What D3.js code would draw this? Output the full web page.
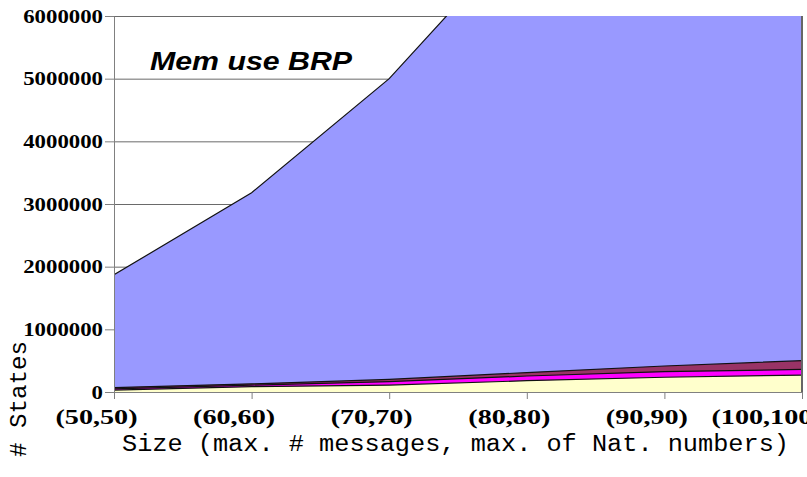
<!DOCTYPE html>
<html>
<head>
<meta charset="utf-8">
<script src="https://cdn.jsdelivr.net/npm/d3@7"></script>
<style>
html,body{margin:0;padding:0;background:#fff;}
svg{display:block;}
</style>
</head>
<body>
<svg id="chart" width="807" height="477"></svg>
<script>
// ---- data ----
const categories = ["(50,50)", "(60,60)", "(70,70)", "(80,80)", "(90,90)", "(100,100)"];
const memBlue    = [1870000, 3180000, 5000000, 7400000, 10300000, 13500000];
const memMaroon  = [70000, 130000, 200000, 310000, 415000, 500000];
const memMagenta = [50000, 110000, 165000, 255000, 325000, 360000];
const memYellow  = [30000, 85000, 110000, 180000, 235000, 270000];
const yTicks = [0, 1000000, 2000000, 3000000, 4000000, 5000000, 6000000];

const chartTitle = "Mem use BRP";
const xTitle = "Size (max. # messages, max. of Nat. numbers)";
const yTitle = "# States";

// ---- layout ----
const svg = d3.select("#chart");
const mLeft = 114, mRight = 802, mTop = 16, mBottom = 392;

const x = d3.scalePoint().domain(categories).range([mLeft, mRight]);
const y = d3.scaleLinear().domain([0, 6000000]).range([mBottom, mTop]);

svg.append("defs").append("clipPath").attr("id", "plotclip")
  .append("rect").attr("x", mLeft).attr("y", mTop).attr("width", mRight - mLeft).attr("height", mBottom - mTop);

// gridlines
svg.append("g").selectAll("line").data(yTicks).join("line")
  .attr("x1", mLeft).attr("x2", mRight)
  .attr("y1", d => y(d) + 0.5).attr("y2", d => y(d) + 0.5)
  .attr("stroke", "#6a6a6a").attr("stroke-width", 1);

const series = [
  {vals: memBlue, color: "#9999FF"},
  {vals: memMaroon, color: "#993366"},
  {vals: memMagenta, color: "#FF00FF"},
  {vals: memYellow, color: "#FFFFCC"}
];

const area = d3.area()
  .x((d, i) => x(categories[i]))
  .y0(y(0))
  .y1(d => y(d));
const line = d3.line()
  .x((d, i) => x(categories[i]))
  .y(d => y(d));

const plot = svg.append("g").attr("clip-path", "url(#plotclip)");
series.forEach(s => {
  plot.append("path").datum(s.vals).attr("d", area).attr("fill", s.color);
  plot.append("path").datum(s.vals).attr("d", line)
    .attr("fill", "none").attr("stroke", "#111").attr("stroke-width", 1.2);
});

// right border
svg.append("line").attr("x1", mRight).attr("x2", mRight).attr("y1", mTop).attr("y2", mBottom)
  .attr("stroke", "#666").attr("stroke-width", 2);

// y axis
const yAxis = svg.append("g").attr("transform", `translate(${mLeft},0)`)
  .call(d3.axisLeft(y).tickValues(yTicks).tickFormat(d3.format("d")).tickSize(9).tickPadding(2).tickSizeOuter(0));
yAxis.select(".domain").attr("stroke", "#808080");
yAxis.selectAll(".tick line").attr("stroke", "#808080");
yAxis.selectAll("text")
  .attr("font-family", "'Liberation Serif', 'Times New Roman', serif")
  .attr("font-weight", "bold").attr("font-size", 19).attr("fill", "#000")
  .each(function() {
    const l = this.getComputedTextLength();
    d3.select(this).attr("textLength", l * 1.2).attr("lengthAdjust", "spacingAndGlyphs");
  });

// x axis
const xAxis = svg.append("g").attr("transform", `translate(0,${mBottom})`)
  .call(d3.axisBottom(x).tickSize(7).tickSizeOuter(0));
xAxis.select(".domain").attr("stroke", "#808080");
xAxis.selectAll(".tick line").attr("stroke", "#808080");
xAxis.selectAll("text")
  .attr("font-family", "'Liberation Serif', 'Times New Roman', serif")
  .attr("font-weight", "bold").attr("font-size", 21).attr("fill", "#000")
  .attr("y", 32).attr("dy", 0)
  .each(function(d, i) {
    const l = this.getComputedTextLength();
    const sel = d3.select(this).attr("textLength", l * 1.34).attr("lengthAdjust", "spacingAndGlyphs");
    if (i === categories.length - 1) {
      sel.attr("text-anchor", "start").attr("x", -91);
    } else {
      sel.attr("x", -18);
    }
  });

// chart title
svg.append("text").attr("x", 150).attr("y", 70)
  .attr("font-family", "'Liberation Sans', Arial, sans-serif")
  .attr("font-weight", "bold").attr("font-style", "italic").attr("font-size", 25)
  .attr("textLength", 202).attr("lengthAdjust", "spacingAndGlyphs")
  .text(chartTitle);

// axis titles
svg.append("text").attr("x", 122).attr("y", 451)
  .attr("font-family", "'Liberation Mono', 'Courier New', monospace")
  .attr("font-size", 23).attr("fill", "#000")
  .attr("textLength", 667).attr("lengthAdjust", "spacingAndGlyphs")
  .text(xTitle);

svg.append("text").attr("transform", "translate(26,457) rotate(-90)")
  .attr("font-family", "'Liberation Mono', 'Courier New', monospace")
  .attr("font-size", 23).attr("fill", "#000")
  .attr("textLength", 116).attr("lengthAdjust", "spacingAndGlyphs")
  .text(yTitle);
</script>
</body>
</html>
